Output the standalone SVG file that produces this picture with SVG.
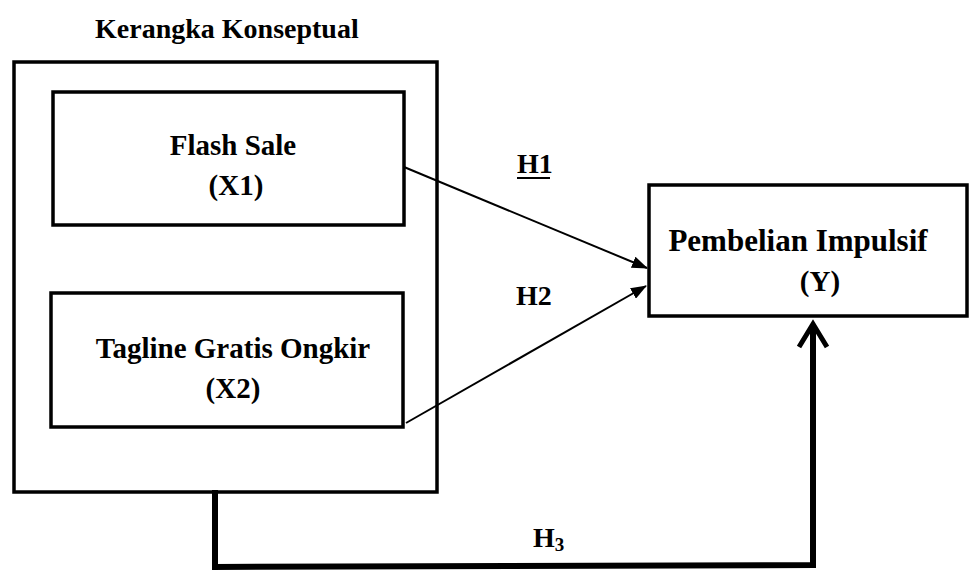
<svg xmlns="http://www.w3.org/2000/svg" width="971" height="577" viewBox="0 0 971 577">
<defs>
<style>
text{font-family:"Liberation Serif","Times New Roman",serif;font-weight:bold;font-size:28px;fill:#000}
.bt{font-size:29px}
.box{fill:none;stroke:#000;stroke-width:3.5}
.ln{fill:none;stroke:#000;stroke-width:2}
.thick{fill:none;stroke:#000;stroke-width:6;stroke-linejoin:miter}
</style>
<marker id="ah" markerWidth="16" markerHeight="12" refX="15" refY="6" orient="auto" markerUnits="userSpaceOnUse">
<path d="M0,0 L16,6 L0,12 Z" fill="#000"/>
</marker>
</defs>
<rect width="971" height="577" fill="#fff"/>
<text x="95" y="38">Kerangka Konseptual</text>
<g id="outer"><rect class="box" x="14" y="62" width="423" height="430"/></g>
<g id="x1">
<rect class="box" x="53" y="92" width="351" height="133"/>
<text class="bt" x="233" y="155" text-anchor="middle">Flash Sale</text>
<text class="bt" x="236" y="195" text-anchor="middle">(X1)</text>
</g>
<g id="x2">
<rect class="box" x="51" y="293" width="352" height="134"/>
<text class="bt" x="233" y="358" text-anchor="middle">Tagline Gratis Ongkir</text>
<text class="bt" x="233" y="398" text-anchor="middle">(X2)</text>
</g>
<g id="y">
<rect class="box" x="649" y="185" width="318" height="131"/>
<text class="bt" x="798" y="251" text-anchor="middle" style="font-size:31px">Pembelian Impulsif</text>
<text class="bt" x="820" y="291" text-anchor="middle">(Y)</text>
</g>
<g id="connectors">
<line class="ln" x1="404" y1="167" x2="647" y2="268" marker-end="url(#ah)"/>
<line class="ln" x1="406" y1="423" x2="646" y2="286" marker-end="url(#ah)"/>
<path class="thick" d="M215,490 L215,567 L813,565 L813,326"/>
<path d="M799,347 L813,324 L827,347" fill="none" stroke="#000" stroke-width="5"/>
</g>
<g id="labels">
<text x="517" y="173">H1</text>
<line x1="517" y1="178" x2="550" y2="178" stroke="#000" stroke-width="2"/>
<text x="516" y="305">H2</text>
<text x="533" y="547">H<tspan font-size="19" dy="4">3</tspan></text>
</g>
</svg>
